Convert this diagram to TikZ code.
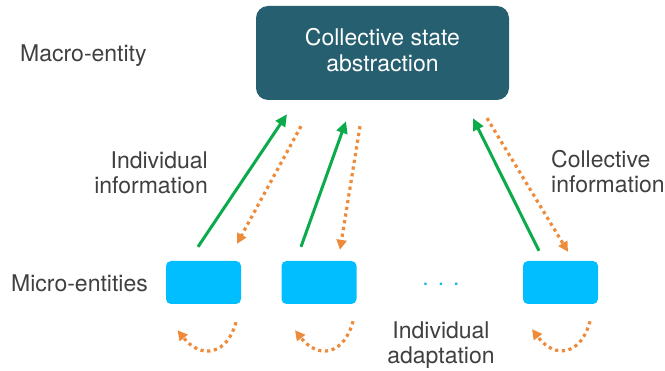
\documentclass[tikz,border=0pt]{standalone}
\usepackage{fontspec}
\setmainfont{TeX Gyre Heros}
\usetikzlibrary{arrows.meta,calc}
\definecolor{macrofill}{HTML}{265F6F}
\definecolor{microfill}{HTML}{00BEFF}
\definecolor{upgreen}{HTML}{0BAA4B}
\definecolor{downorange}{HTML}{EE8B3A}
\definecolor{labelgray}{HTML}{404040}
\definecolor{dotblue}{HTML}{1EB4EA}
\begin{document}
\begin{tikzpicture}[x=1pt,y=-1pt,
  lbl/.style={text=labelgray,font=\fontsize{23}{25}\selectfont,inner sep=0pt},
  macrobox/.style={fill=macrofill,rounded corners=12pt,minimum width=253pt,minimum height=94pt,inner sep=0pt,text=white,align=center,font=\fontsize{23}{26}\selectfont},
  microbox/.style={fill=microfill,rounded corners=5pt,minimum width=75pt,minimum height=43pt,inner sep=0pt},
  uparrow/.style={draw=upgreen,line width=3pt,-{Triangle[length=12pt,width=11pt]}},
  downarrow/.style={draw=downorange,line width=3.2pt,dash pattern=on 3.2pt off 3.6pt,-{Triangle[length=10pt,width=10pt]}}
]
\useasboundingbox (0,0) rectangle (665,371);
\node[macrobox] (macro) at (382.5,53) {Collective state\\abstraction\rule[-6pt]{0pt}{0pt}};
\node[microbox] (m1) at (203.5,282.5) {};
\node[microbox] (m2) at (319,282.5) {};
\node[microbox] (m3) at (560.5,282.5) {};

\node[lbl,anchor=base west] (lmacro) at (20,62) {Macro-entity};
\node[lbl,anchor=base west] (lmicro) at (11,292) {Micro-entities};
\node[lbl,anchor=east,align=right] (lindinfo) at (208,173) {Individual\\information};
\node[lbl,anchor=west,align=left] (lcollinfo) at (551,172) {Collective\\information};
\node[lbl,align=center] (ladapt) at (441,345) {Individual\\adaptation};
\node[text=dotblue,font=\fontsize{23}{25}\selectfont,inner sep=0pt,anchor=base] (dots) at (441,286) {.\hspace{9pt}.\hspace{9pt}.};

% green upward arrows
\draw[uparrow] ($(m1.north)+(-5.5,-14)$) -- ($(macro.south)+(-95.5,14)$);
\draw[uparrow] ($(m2.north)+(-18,-14)$) -- ($(macro.south)+(-36.5,21)$);
\draw[uparrow] ($(m3.north)+(-21.5,-10)$) -- ($(macro.south)+(90.5,18)$);

% orange downward dotted arrows
\draw[downarrow] ($(macro.south)+(-81.5,26)$) -- ($(m1.north)+(33.5,-17)$);
\draw[downarrow] ($(macro.south)+(-22.5,26)$) -- ($(m2.north)+(21,-11)$);
\draw[downarrow] ($(macro.south)+(104.5,18)$) -- ($(m3.north)+(7.5,-9)$);

% self-adaptation loops
\draw[downarrow] ($(m1.south)+(32.5,18)$) .. controls ($(m1.south)+(24,50)$) and ($(m1.south)+(-2,56)$) .. ($(m1.south)+(-26,26)$);
\draw[downarrow] ($(m2.south)+(34,17)$) .. controls ($(m2.south)+(25.5,50)$) and ($(m2.south)+(-0.5,56)$) .. ($(m2.south)+(-24,26)$);
\draw[downarrow] ($(m3.south)+(29.5,17)$) .. controls ($(m3.south)+(21,50)$) and ($(m3.south)+(-5,56)$) .. ($(m3.south)+(-28.5,25)$);
\end{tikzpicture}
\end{document}
